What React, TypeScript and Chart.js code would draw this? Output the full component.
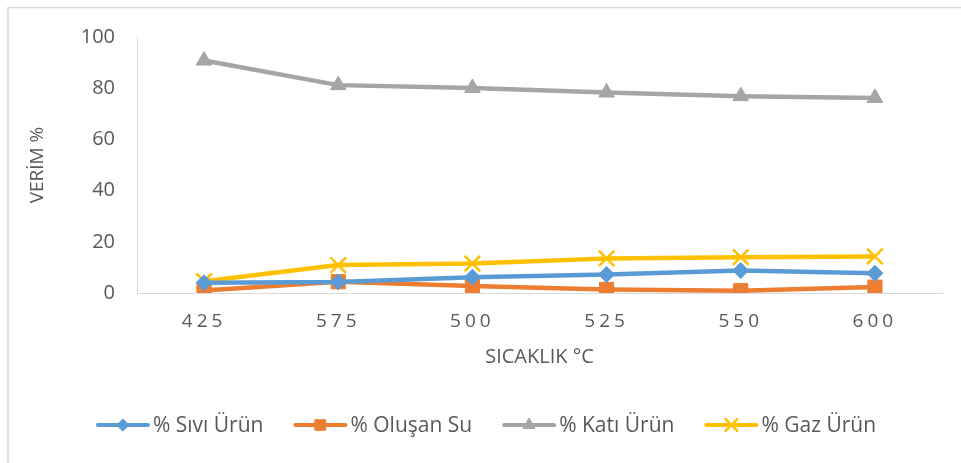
import { useEffect, useRef } from 'react';
import { Chart, registerables } from 'chart.js';
import { drawPoint } from 'chart.js/helpers';

Chart.register(...registerables);

const categories = ['425', '575', '500', '525', '550', '600'];
const siviUrun = [4.0, 4.3, 6.2, 7.2, 8.8, 7.7];
const olusanSu = [1.0, 4.4, 2.7, 1.4, 0.9, 2.3];
const katiUrun = [90.8, 81.2, 80.1, 78.3, 76.9, 76.2];
const gazUrun = [4.6, 10.9, 11.5, 13.5, 14.0, 14.3];
const seriesNames = ['% Sıvı Ürün', '% Oluşan Su', '% Katı Ürün', '% Gaz Ürün'];
const yTicks = [0, 20, 40, 60, 80, 100];

const FONT = '"Open Sans", "DejaVu Sans", sans-serif';
const TEXT = '#595959';
const AXIS = '#d9d9d9';

const frame = {
  id: 'frame',
  beforeDraw(chart: any) {
    const ctx = chart.ctx;
    ctx.save();
    ctx.fillStyle = '#ffffff';
    ctx.fillRect(0, 0, chart.width, chart.height);
    ctx.strokeStyle = AXIS;
    ctx.lineWidth = 1.5;
    ctx.beginPath();
    ctx.moveTo(8, chart.height);
    ctx.lineTo(8, 7.5);
    ctx.lineTo(chart.width, 7.5);
    ctx.stroke();
    ctx.restore();
  },
};

const spacing = {
  id: 'spacing',
  afterLayout(chart: any) {
    const s = chart.scales.x;
    if (!s || s.__wrapped) return;
    const orig = s.drawLabels.bind(s);
    s.drawLabels = (area: any) => {
      const ctx = chart.ctx;
      ctx.save();
      (ctx as any).letterSpacing = '4px';
      orig(area);
      ctx.restore();
    };
    s.__wrapped = true;
  },
};

const legend = {
  id: 'customLegend',
  afterDraw(chart: any) {
    const ctx = chart.ctx;
    ctx.save();
    ctx.font = `21px ${FONT}`;
    const lineLen = 50;
    const textGap = 5;
    const itemGap = 32;
    const ds = chart.data.datasets;
    const widths = ds.map((d: any) => lineLen + textGap + ctx.measureText(d.label).width);
    const total = widths.reduce((a: number, b: number) => a + b, 0) + itemGap * (ds.length - 1);
    let x = 487 - total / 2;
    const y = 425;
    ds.forEach((d: any, i: number) => {
      ctx.strokeStyle = d.borderColor;
      ctx.lineWidth = 4;
      ctx.lineCap = 'round';
      ctx.beginPath();
      ctx.moveTo(x, y);
      ctx.lineTo(x + lineLen, y);
      ctx.stroke();
      ctx.fillStyle = d.pointBackgroundColor;
      ctx.strokeStyle = d.pointBorderColor;
      ctx.lineWidth = d.pointBorderWidth;
      drawPoint(ctx, { pointStyle: d.pointStyle, rotation: 0, borderWidth: d.pointBorderWidth, radius: d.pointRadius * 0.75 } as any, x + lineLen / 2, y);
      ctx.fillStyle = TEXT;
      ctx.textBaseline = 'middle';
      ctx.textAlign = 'left';
      ctx.fillText(d.label, x + lineLen + textGap, y + 1);
      x += widths[i] + itemGap;
    });
    ctx.restore();
  },
};

export default function App() {
  const ref = useRef<HTMLCanvasElement>(null);
  useEffect(() => {
    const canvas = ref.current!;
    const mk = (label: string, data: number[], color: string, style: string, radius: number, cross = false) => ({
      label,
      data,
      borderColor: color,
      backgroundColor: color,
      borderWidth: 4.5,
      pointStyle: style,
      pointRadius: radius,
      pointBackgroundColor: color,
      pointBorderColor: color,
      pointBorderWidth: cross ? 2.5 : 1,
      tension: 0,
    });
    const chart = new Chart(canvas, {
      type: 'line',
      data: {
        labels: categories,
        datasets: [
          mk(seriesNames[0], siviUrun, '#5B9BD5', 'rectRot', 8),
          mk(seriesNames[1], olusanSu, '#ED7D31', 'rect', 10),
          mk(seriesNames[2], katiUrun, '#A5A5A5', 'triangle', 9),
          mk(seriesNames[3], gazUrun, '#FFC000', 'crossRot', 11, true),
        ] as any,
      },
      options: {
        animation: false,
        responsive: false,
        devicePixelRatio: 1,
        layout: { padding: { left: 26, right: 19, top: 37, bottom: 94 } },
        plugins: { legend: { display: false }, tooltip: { enabled: false } },
        scales: {
          x: {
            offset: true,
            grid: { display: false, drawTicks: false },
            border: { display: true, color: AXIS, width: 1 },
            ticks: { color: TEXT, font: { family: FONT, size: 19 }, padding: 17 },
            title: { display: true, text: 'SICAKLIK °C', color: TEXT, font: { family: FONT, size: 20 }, padding: { top: 0, bottom: 0 } },
            afterFit(s: any) { s.height = 76; },
          },
          y: {
            min: 0,
            max: 100,
            afterBuildTicks(s: any) { s.ticks = yTicks.map((v) => ({ value: v })); },
            grid: { display: false, drawTicks: false },
            border: { display: true, color: AXIS, width: 1 },
            ticks: { color: TEXT, font: { family: FONT, size: 20 }, padding: 22 },
            title: { display: true, text: 'VERİM %', color: TEXT, font: { family: FONT, size: 19 }, padding: { top: 0, bottom: 0 } },
            afterFit(s: any) { s.width = 111; },
          },
        },
      },
      plugins: [frame, spacing, legend],
    });
    return () => chart.destroy();
  }, []);
  return (
    <div style={{ position: 'absolute', left: 0, top: 0 }}>
      <canvas ref={ref} width={961} height={463} style={{ display: 'block', width: 961, height: 463 }} />
    </div>
  );
}
